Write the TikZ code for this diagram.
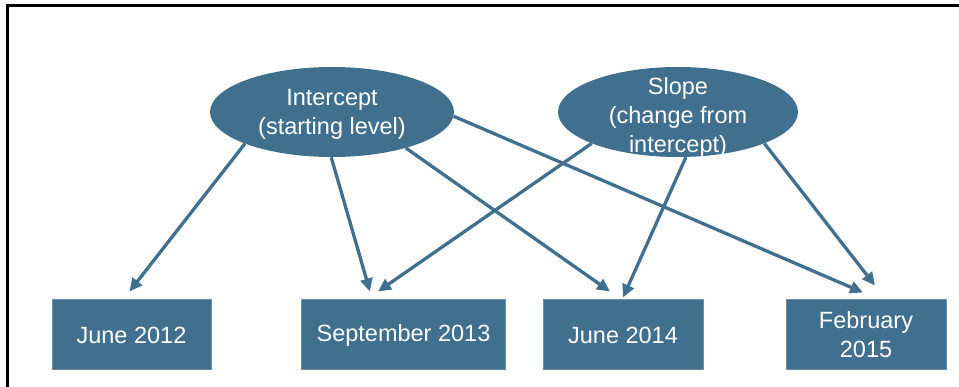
\documentclass[tikz,border=0pt]{standalone}
\usepackage{fontspec}
\setmainfont{Liberation Sans}
\usetikzlibrary{arrows.meta,shapes.geometric,positioning}
\definecolor{steel}{HTML}{41708F}
\definecolor{steeledge}{HTML}{6F8FA6}
\tikzset{
  line cap=round,
  line join=round,
  factor/.style={ellipse, fill=steel, minimum width=244pt, minimum height=90pt, inner sep=0pt},
  wave/.style={draw=steeledge, line width=1pt, fill=steel, text=white, minimum height=70pt, inner sep=0pt, align=center},
  arrow/.style={draw=steel, line width=3.3pt, -{Triangle[length=13pt,width=12pt]}},
  words/.style={font=\fontsize{23.5}{29}\selectfont}
}
\begin{document}
\begin{tikzpicture}[x=1pt,y=-1pt,words]
  \useasboundingbox (0,0) rectangle (959,387);
  \draw[line width=3pt, line cap=butt] (959,6) -- (7,6) -- (7,387);

  % latent factors
  \node[factor, label={[text=white, align=center, words, yshift=-2pt]center:{Intercept\\(starting level)}}] (icpt) at (332,112) {};
  \node[factor, minimum width=240pt, label={[text=white, align=center, words, yshift=-5pt]center:{Slope\\(change from\\intercept)}}] (slope) at (678,112) {};

  % measurement waves
  \node[wave, minimum width=159pt] (jun12) at (131.5,335) {June 2012};
  \node[wave, minimum width=204pt] (sep13) at (403.5,335) {September 2013};
  \node[wave, minimum width=160pt] (jun14) at (623,335) {June 2014};
  \node[wave, minimum width=160pt] (feb15) at (866,335) {February\\2015};

  \draw[arrow] (icpt.200) -- ([xshift=-2pt,yshift=8pt]jun12.north);
  \draw[arrow] (icpt.269) -- ([xshift=-33.5pt,yshift=8pt]sep13.north);
  \draw[arrow] (icpt.334) -- ([xshift=-13pt,yshift=8pt]jun14.north);
  \draw[arrow] (icpt.358) -- ([xshift=-3pt,yshift=7pt]feb15.north);
  \draw[arrow] (slope.200.5) -- ([xshift=-25.5pt,yshift=8pt]sep13.north);
  \draw[arrow] (slope.280) -- ([yshift=2pt]jun14.north);
  \draw[arrow] (slope.340) -- ([xshift=9pt,yshift=14pt]feb15.north);
\end{tikzpicture}
\end{document}
